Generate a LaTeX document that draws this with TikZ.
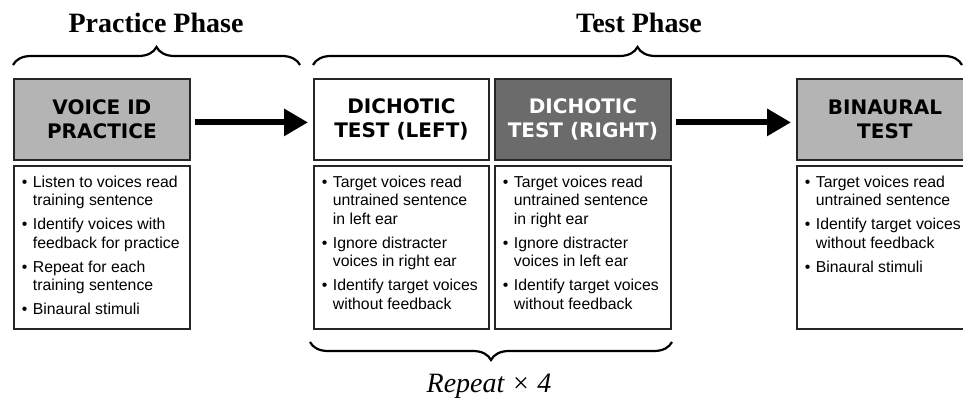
\documentclass[tikz,border=0pt]{standalone}
\usepackage{fontspec}
\setmainfont{Liberation Serif}
\setsansfont{Liberation Sans}
\newfontfamily\headfont{DejaVu Sans}
\usepackage{tikz}
\usetikzlibrary{
    calc,positioning,arrows.meta,
    decorations.pathreplacing
}
\definecolor{headgray}{HTML}{B4B4B4}
\definecolor{headdark}{HTML}{6B6B6B}
\definecolor{framegray}{HTML}{262626}
\newcommand{\bul}[1]{\par\noindent\hangindent=11pt\hangafter=1\makebox[11pt][l]{\textbullet}#1\par\vspace{5.5pt}}
\newcommand{\steplist}[2][160pt]{\parbox[c][143pt][t]{#1}{#2}}
\tikzset{
    headbox/.style={
        rectangle,
        draw=framegray,
        line width=1.8pt,
        fill=headgray,
        minimum width=176pt,
        minimum height=81pt,
        inner sep=0pt,
        anchor=north west,
        align=center,
        font={\headfont\bfseries\fontsize{20pt}{24pt}\selectfont}
    },
    listbox/.style={
        rectangle,
        draw=framegray,
        line width=1.8pt,
        fill=white,
        inner xsep=8pt,
        inner ysep=10pt,
        anchor=north west,
        font={\sffamily\fontsize{15.8pt}{18.5pt}\selectfont}
    },
    phasetitle/.style={
        anchor=base,
        font={\bfseries\fontsize{28pt}{30pt}\selectfont}
    },
    bigbrace/.style={
        decorate,
        decoration={brace,amplitude=18pt},
        line width=2.2pt
    },
    line/.style={
        draw, line width=6pt,
        -{Triangle[length=24pt,width=26pt]},
        shorten <=4pt, shorten >=5pt
    },
}

\begin{document}
\begin{tikzpicture}[x=1pt,y=-1pt]
\useasboundingbox (0,0) rectangle (963,398);

\node[phasetitle] (practicetitle) at (156,33) {Practice Phase};
\node[phasetitle] (testtitle) at (639,33) {Test Phase};

\coordinate (pbl) at (13,65);
\coordinate (pbr) at (300,65);
\coordinate (tbl) at (313,65);
\coordinate (tbr) at (962,65);
\draw[bigbrace] (pbl) -- (pbr);
\draw[bigbrace] (tbl) -- (tbr);

\node[headbox] (voiceid) at (13,78) {VOICE ID\\PRACTICE};
\node[headbox, fill=white, minimum width=175pt] (dleft) at (313,78) {DICHOTIC\\TEST (LEFT)};
\node[headbox, fill=headdark, text=white] (dright) at (494,78) {DICHOTIC\\TEST (RIGHT)};
\node[headbox] (binaural) at (796,78) {BINAURAL\\TEST};

\node[listbox] (voiceidlist) at (13,165) {\steplist{%
  \bul{Listen to voices read\newline training sentence}
  \bul{Identify voices with\newline feedback for practice}
  \bul{Repeat for each\newline training sentence}
  \bul{Binaural stimuli}}};
\node[listbox] (dleftlist) at (313,165) {\steplist[159pt]{%
  \bul{Target voices read\newline untrained sentence\newline in left ear}
  \bul{Ignore distracter\newline voices in right ear}
  \bul{Identify target voices\newline without feedback}}};
\node[listbox] (drightlist) at (494,165) {\steplist{%
  \bul{Target voices read\newline untrained sentence\newline in right ear}
  \bul{Ignore distracter\newline voices in left ear}
  \bul{Identify target voices\newline without feedback}}};
\node[listbox] (binaurallist) at (796,165) {\steplist{%
  \bul{Target voices read\newline untrained sentence}
  \bul{Identify target voices\newline without feedback}
  \bul{Binaural stimuli}}};

\path[line] ($(voiceid.east)+(0,3)$) -- ($(dleft.west)+(0,3)$);
\path[line] ($(dright.east)+(0,3)$) -- ($(binaural.west)+(0,3)$);

\coordinate (rbr) at (672,342);
\coordinate (rbl) at (310,342);
\draw[bigbrace] (rbr) -- (rbl);
\node[anchor=base, font={\itshape\fontsize{28pt}{30pt}\selectfont}] (repeat) at (489,392) {Repeat × 4};
\end{tikzpicture}
\end{document}
